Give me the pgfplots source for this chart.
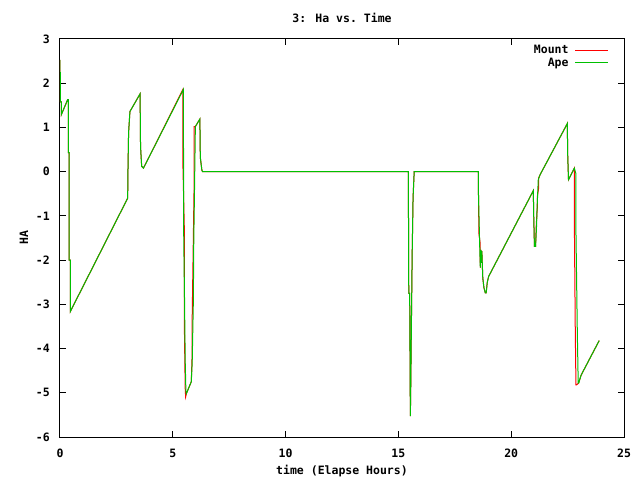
\documentclass[border=0pt]{standalone}
\usepackage{fontspec}
\setmainfont{DejaVu Sans Mono}
\usepackage{pgfplots}
\usepackage{pgfplotstable}
\pgfplotsset{compat=1.18}
\definecolor{gpred}{RGB}{255,0,0}
\definecolor{gpgreen}{RGB}{0,192,0}

\pgfplotstableread{
t v
0.00 2.53
0.00 2.24
0.02 2.24
0.02 1.58
0.06 1.58
0.06 1.29
0.34 1.63
0.37 1.63
0.37 0.43
0.41 0.43
0.41 -2.00
0.46 -2.00
0.46 -3.16
3.00 -0.60
3.01 -0.07
3.04 0.88
3.10 1.36
3.55 1.76
3.57 0.57
3.62 0.12
3.70 0.08
3.72 0.10
5.45 1.86
5.45 0.12
5.51 -1.27
5.51 -3.35
5.55 -4.90
5.57 -5.09
5.60 -5.02
5.82 -4.75
5.86 -4.10
5.86 -3.30
5.94 -0.48
5.94 1.02
6.00 1.02
6.20 1.19
6.22 0.32
6.29 0.03
6.32 0.00
15.44 0.00
15.46 -2.75
15.50 -2.75
15.53 -5.53
15.55 -4.77
15.58 -3.28
15.61 -1.88
15.65 -0.59
15.70 0.00
18.54 0.00
18.55 -0.52
18.57 -1.40
18.62 -1.60
18.63 -2.17
18.66 -1.77
18.68 -2.06
18.70 -1.80
18.74 -2.40
18.79 -2.62
18.85 -2.74
18.89 -2.74
18.94 -2.50
19.00 -2.37
20.98 -0.43
21.00 -1.04
21.03 -1.69
21.08 -1.69
21.11 -1.22
21.16 -0.78
21.16 -0.56
21.22 -0.36
21.22 -0.14
21.28 -0.07
22.49 1.09
22.50 0.46
22.54 -0.18
22.80 0.08
22.80 -1.15
22.84 -3.57
22.87 -4.82
22.90 -4.82
22.99 -4.78
23.10 -4.60
23.90 -3.82
}\mounttable

\pgfplotstableread{
t v
0.00 2.53
0.00 2.24
0.02 2.24
0.02 1.58
0.06 1.58
0.06 1.29
0.34 1.63
0.37 1.63
0.37 0.43
0.41 0.43
0.41 -2.00
0.46 -2.00
0.46 -3.16
3.00 -0.60
3.01 -0.07
3.04 0.88
3.10 1.36
3.55 1.76
3.57 0.57
3.62 0.12
3.70 0.08
3.72 0.10
5.47 1.86
5.48 -1.24
5.52 -2.90
5.55 -4.30
5.58 -4.95
5.60 -5.02
5.82 -4.75
5.86 -4.30
5.91 -2.95
5.93 -1.54
5.96 -0.48
6.00 1.02
6.20 1.19
6.22 0.32
6.29 0.03
6.32 0.00
15.44 0.00
15.46 -2.75
15.50 -2.75
15.53 -5.53
15.55 -4.77
15.58 -3.28
15.61 -1.88
15.65 -0.59
15.70 0.00
18.54 0.00
18.55 -0.52
18.60 -1.60
18.63 -2.17
18.66 -1.77
18.68 -2.06
18.70 -1.80
18.74 -2.40
18.79 -2.62
18.85 -2.74
18.89 -2.74
18.94 -2.50
19.00 -2.37
20.98 -0.43
21.00 -1.04
21.03 -1.69
21.08 -1.69
21.12 -1.27
21.15 -0.78
21.20 -0.18
21.28 -0.07
22.49 1.09
22.50 0.46
22.54 -0.18
22.80 0.08
22.87 -0.05
22.87 -1.35
22.93 -3.61
22.97 -4.78
22.99 -4.78
23.10 -4.60
23.90 -3.82
}\apetable

\begin{document}
\bfseries\fontsize{11.5bp}{13bp}\selectfont
\begin{tikzpicture}
\useasboundingbox (-60bp,-43bp) rectangle (580bp,437bp);
\begin{axis}[
  at={(0,0)}, anchor=south west,
  scale only axis, width=564bp, height=398bp,
  xmin=0, xmax=25, ymin=-6, ymax=3,
  xtick={0,5,...,25}, ytick={-6,-5,...,3},
  tick align=inside, major tick length=6bp,
  axis line style={line width=1bp}, every tick/.style={black, line width=1bp},
  /pgf/number format/assume math mode=true,
  xticklabel style={anchor=center, inner sep=0pt, yshift=-16bp},
  yticklabel style={anchor=east, inner sep=0pt, xshift=-10bp},
  title={3: Ha vs.\ Time},
  title style={at={(axis description cs:0.5,1.0377)}, anchor=center, inner sep=0pt},
  xlabel={time (Elapse Hours)},
  xlabel style={at={(axis description cs:0.5,-0.0854)}, anchor=center, inner sep=0pt},
  ylabel={HA},
  ylabel style={at={(axis description cs:-0.0638,0.5)}, anchor=center, inner sep=0pt},
  legend style={draw=none, fill=none, at={(axis description cs:0.973,0.990)}, anchor=north east,
     legend cell align=right, row sep=-1.5bp, inner sep=0pt},
  legend plot pos=right,
  legend image code/.code={\path (0bp,0bp); \draw[#1, line width=1bp] (4bp,0bp) -- (37bp,0bp);},
]
\addplot[gpred, line width=1bp] table[x=t, y=v] {\mounttable};
\addlegendentry{Mount}
\addplot[gpgreen, line width=1bp] table[x=t, y=v] {\apetable};
\addlegendentry{Ape}
\end{axis}
\end{tikzpicture}
\end{document}
